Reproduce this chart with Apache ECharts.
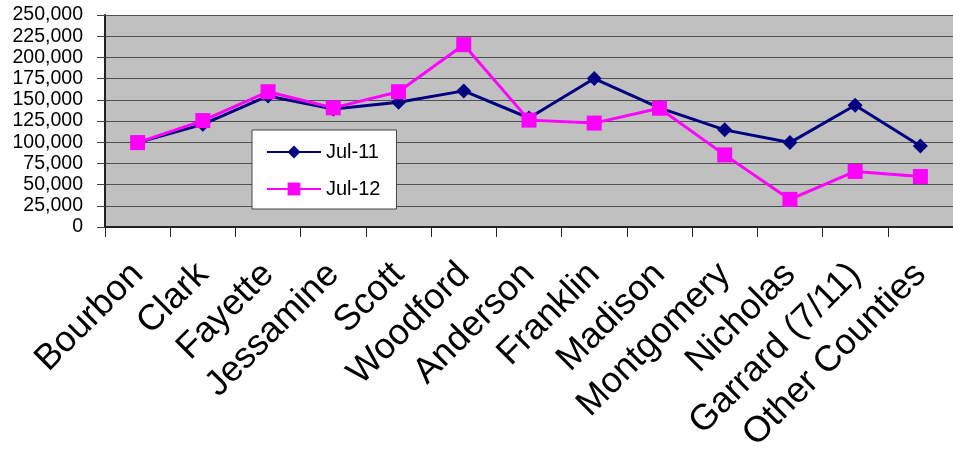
<!DOCTYPE html>
<html>
<head>
<meta charset="utf-8">
<script src="https://cdn.jsdelivr.net/npm/echarts@6/dist/echarts.min.js"></script>
<style>
html,body{margin:0;padding:0;background:#fff;}
#chart{width:953px;height:455px;}
</style>
</head>
<body>
<div id="chart"></div>
<script>
var categories = ['Bourbon','Clark','Fayette','Jessamine','Scott','Woodford','Anderson','Franklin','Madison','Montgomery','Nicholas','Garrard (7/11)','Other Counties'];
var jul11 = [99500, 121000, 154500, 139000, 147000, 160500, 128500, 175000, 140500, 114500, 99500, 143500, 95500];
var jul12 = [99500, 125500, 159500, 140500, 159500, 215000, 126000, 122500, 140000, 85000, 32500, 65500, 59500];
var seriesNames = ['Jul-11', 'Jul-12'];
var yTickLabels = ['0','25,000','50,000','75,000','100,000','125,000','150,000','175,000','200,000','225,000','250,000'];

var chart = echarts.init(document.getElementById('chart'), null, {renderer:'canvas'});
var font = '"Liberation Sans", Arial, sans-serif';
chart.setOption({
  animation: false,
  backgroundColor: '#ffffff',
  grid: {left: 105, top: 15, width: 858, height: 214, backgroundColor: '#c0c0c0', show: true, borderWidth: 0},
  legend: {
    orient: 'vertical', left: 252, top: 130,
    backgroundColor: '#ffffff', borderColor: '#444', borderWidth: 1,
    padding: [12, 16, 10, 14],
    itemWidth: 54, itemHeight: 16, itemGap: 17,
    textStyle: {fontFamily: font, fontSize: 20, color: '#000', lineHeight: 18},
    data: seriesNames
  },
  xAxis: {
    type: 'category', data: categories, boundaryGap: true,
    axisLine: {lineStyle: {color: '#222', width: 2}},
    axisTick: {show: true, interval: 0, length: 10, lineStyle: {color: '#222', width: 1}},
    axisLabel: {interval: 0, rotate: 45, margin: 42, fontFamily: font, fontSize: 36, color: '#000'}
  },
  yAxis: {
    type: 'value', min: 0, max: 250000, interval: 25000,
    axisLine: {show: true, lineStyle: {color: '#222', width: 2}},
    axisTick: {show: true, length: 8, lineStyle: {color: '#444'}},
    axisLabel: {margin: 22, fontFamily: font, fontSize: 19.5, color: '#000',
      formatter: function (v) { return yTickLabels[Math.round(v / 25000)]; }},
    splitLine: {show: true, lineStyle: {color: '#505050', width: 1}}
  },
  series: [
    {name: seriesNames[0], type: 'line', data: jul11, symbol: 'diamond', symbolSize: 15,
     lineStyle: {color: '#000080', width: 3}, itemStyle: {color: '#000080'}},
    {name: seriesNames[1], type: 'line', data: jul12, symbol: 'rect', symbolSize: 15,
     lineStyle: {color: '#ff00ff', width: 3}, itemStyle: {color: '#ff00ff'}}
  ]
});
</script>
</body>
</html>
